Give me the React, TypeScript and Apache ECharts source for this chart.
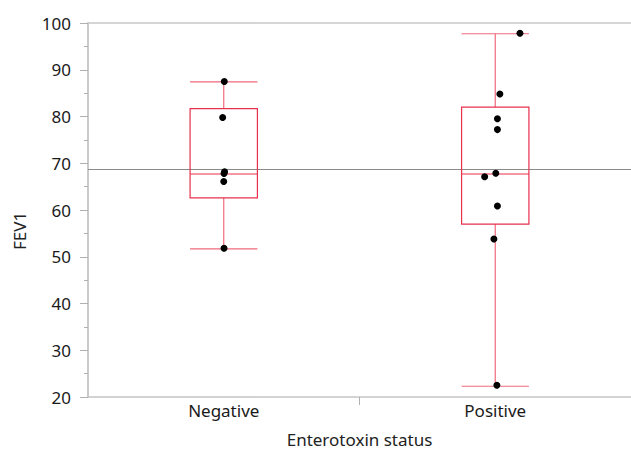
import React, { useEffect, useRef } from "react";
import * as echarts from "echarts";

const categories = ["Negative", "Positive"];
// [lower whisker, Q1, median, Q3, upper whisker]
const boxStats = [
  [51.7, 62.6, 67.7, 81.7, 87.4],
  [22.3, 57.0, 67.7, 82.0, 97.7],
];
const negValues = [87.5, 79.8, 68.2, 67.8, 66.1, 51.8];
const negJitter = [0.002, -0.004, 0.003, 0.001, 0.0, 0.001];
const posValues = [97.8, 84.8, 79.5, 77.2, 67.85, 67.1, 60.85, 53.8, 22.5];
const posJitter = [0.091, 0.017, 0.008, 0.008, 0.002, -0.039, 0.008, -0.005, 0.006];
const grandMean = 68.7;
const yTicks = { min: 20, max: 100, interval: 10 };

const FONT = "'Noto Sans', 'Open Sans', sans-serif";
const BOX_COLOR = "#E8304D";
const WHISKER_COLOR = "#EF6A7D";
const HALF_W = 0.124;

export default function App() {
  const ref = useRef<HTMLDivElement>(null);
  useEffect(() => {
    if (!ref.current) return;
    const chart = echarts.init(ref.current, undefined, { renderer: "svg" });
    const points: number[][] = [];
    negValues.forEach((v, i) => points.push([0 + negJitter[i], v]));
    posValues.forEach((v, i) => points.push([1 + posJitter[i], v]));

    const option = {
      animation: false,
      backgroundColor: "#ffffff",
      textStyle: { fontFamily: FONT },
      grid: { left: 88, right: 0, top: 23, bottom: 53, outerBoundsMode: "none", containLabel: false },
      xAxis: [
        {
          type: "value",
          position: "bottom",
          min: -0.5,
          max: 1.5,
          name: "Enterotoxin status",
          nameLocation: "middle",
          nameGap: 34,
          nameMoveOverlap: false,
          nameTextStyle: { fontFamily: FONT, fontSize: 17, color: "#222" },
          axisLine: { show: true, onZero: false, lineStyle: { color: "#c4c4c4", width: 1.5 } },
          axisTick: {
            show: true,
            customValues: [0.5],
            length: 8,
            inside: false,
            lineStyle: { color: "#b0b0b0" },
          },
          axisLabel: {
            show: true,
            customValues: [0, 1],
            formatter: (v: number) => categories[Math.round(v)] ?? "",
            fontFamily: FONT,
            fontSize: 17,
            color: "#1a1a1a",
            margin: 5,
          },
          splitLine: { show: false },
        },
        {
          type: "value",
          position: "top",
          min: -0.5,
          max: 1.5,
          axisLine: { show: true, onZero: false, lineStyle: { color: "#c8c8c8", width: 1.5 } },
          axisTick: { show: false },
          axisLabel: { show: false },
          splitLine: { show: false },
        },
      ],
      yAxis: {
        type: "value",
        min: yTicks.min,
        max: yTicks.max,
        interval: yTicks.interval,
        name: "FEV1",
        nameLocation: "middle",
        nameGap: 60,
        nameMoveOverlap: false,
        nameTextStyle: {
          fontFamily: FONT,
          fontSize: 17,
          color: "#222",
          align: "center",
          padding: [0, 42, 0, 0],
        },
        axisLine: { show: true, onZero: false, lineStyle: { color: "#b8b8b8", width: 1.5 } },
        axisTick: { show: true, length: 8, lineStyle: { color: "#b0b0b0" } },
        minorTick: { show: true, splitNumber: 2, length: 4, lineStyle: { color: "#b0b0b0" } },
        axisLabel: { fontFamily: FONT, fontSize: 17, color: "#1a1a1a", margin: 17 },
        splitLine: { show: false },
      },
      series: [
        {
          type: "custom",
          xAxisIndex: 0,
          yAxisIndex: 0,
          data: categories.map((_, i) => [i, ...boxStats[i]]),
          encode: { x: 0, y: [1, 2, 3, 4, 5] },
          z: 2,
          renderItem: (_params: any, api: any) => {
            const x = api.value(0);
            const lo = api.value(1);
            const q1 = api.value(2);
            const med = api.value(3);
            const q3 = api.value(4);
            const hi = api.value(5);
            const tl = api.coord([x - HALF_W, q3]);
            const br = api.coord([x + HALF_W, q1]);
            const c = api.coord([x, med]);
            const pHi = api.coord([x, hi]);
            const pLo = api.coord([x, lo]);
            const left = tl[0];
            const right = br[0];
            const cx = c[0];
            const wStyle = { stroke: WHISKER_COLOR, lineWidth: 1.2, fill: null };
            const bStyle = { stroke: BOX_COLOR, lineWidth: 1.2, fill: null };
            return {
              type: "group",
              children: [
                { type: "line", shape: { x1: cx, y1: pHi[1], x2: cx, y2: tl[1] }, style: wStyle },
                { type: "line", shape: { x1: cx, y1: br[1], x2: cx, y2: pLo[1] }, style: wStyle },
                { type: "line", shape: { x1: left, y1: pHi[1], x2: right, y2: pHi[1] }, style: wStyle },
                { type: "line", shape: { x1: left, y1: pLo[1], x2: right, y2: pLo[1] }, style: wStyle },
                {
                  type: "rect",
                  shape: { x: left, y: tl[1], width: right - left, height: br[1] - tl[1] },
                  style: bStyle,
                },
                { type: "line", shape: { x1: left, y1: c[1], x2: right, y2: c[1] }, style: bStyle },
              ],
            };
          },
        },
        {
          type: "scatter",
          xAxisIndex: 0,
          yAxisIndex: 0,
          data: points,
          symbol: "circle",
          symbolSize: 7,
          itemStyle: { color: "#000000", opacity: 1 },
          z: 5,
          markLine: {
            silent: true,
            symbol: ["none", "none"],
            label: { show: false },
            lineStyle: { color: "#8a8a8a", type: "solid", width: 1.2, opacity: 1 },
            data: [{ yAxis: grandMean }],
            z: 1,
          },
        },
      ],
    };
    chart.setOption(option as any);
    return () => chart.dispose();
  }, []);
  return (
    <div
      ref={ref}
      style={{ position: "fixed", left: 0, top: 0, width: 631, height: 450 }}
    />
  );
}
